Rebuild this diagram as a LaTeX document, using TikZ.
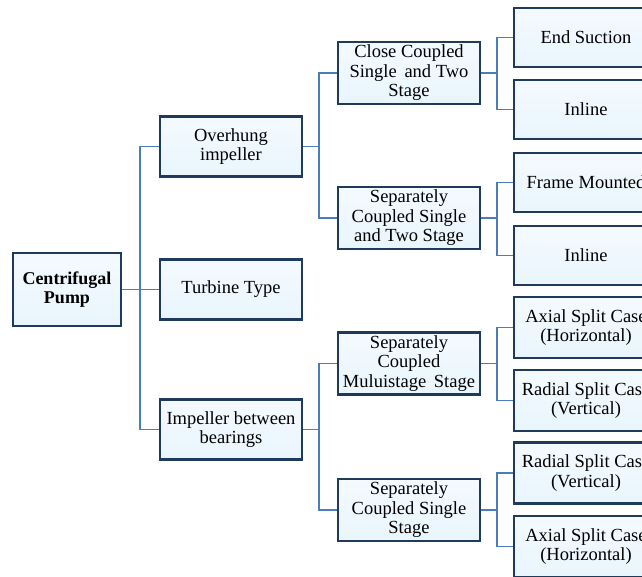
\documentclass[tikz,border=0pt]{standalone}
\usepackage{fontspec}
\setmainfont{Liberation Serif}
\definecolor{boxline}{HTML}{1F3B5C}
\definecolor{boxfill}{HTML}{E9F5FD}
\definecolor{boxtop}{HTML}{F4FAFF}
\definecolor{linkcol}{HTML}{4A7EBB}
\tikzset{
  pbox/.style={draw=boxline, line width=2.2pt, top color=boxtop, bottom color=boxfill,
    align=center, inner sep=1pt, font=\fontsize{18.5}{19.5}\selectfont,
    minimum height=60pt},
  lone/.style={pbox, minimum width=142pt},
  ltwo/.style={pbox, minimum width=142pt, minimum height=62pt},
  lthree/.style={pbox, minimum width=144pt, minimum height=59pt},
  link/.style={draw=linkcol, line width=1.9pt},
}
\begin{document}
\begin{tikzpicture}[x=1pt,y=-1pt]
\clip (0,0) rectangle (642,576);
\fill[white] (0,0) rectangle (642,576);
% root
\node[pbox, minimum width=108pt, minimum height=73pt, font=\fontsize{18}{19.5}\selectfont\bfseries] (root) at (67,289.5) {Centrifugal\\Pump};
% level 1
\node[lone] (ov) at (231,146.5) {Overhung\\impeller};
\node[lone] (tt) at (231,289.5) {Turbine Type};
\node[lone] (ib) at (231,429.5) {Impeller between\\bearings};
% level 2
\node[ltwo] (cc) at (409,73) {Close Coupled\\Single\, and Two\\Stage};
\node[ltwo] (sc) at (409,218) {Separately\\Coupled Single\\and Two Stage};
\node[ltwo] (sm) at (409,363.5) {Separately\\Coupled\\Muluistage\, Stage};
\node[ltwo] (ss) at (409,510) {Separately\\Coupled Single\\Stage};
% level 3
\node[lthree] (es) at (586,37.5) {End Suction};
\node[lthree] (in1) at (586,109.5) {Inline};
\node[lthree] (fm) at (586,182.5) {Frame Mounted};
\node[lthree] (in2) at (586,255.5) {Inline};
\node[lthree, minimum height=61pt] (ah1) at (586,327.5) {Axial Split Case\\(Horizontal)};
\node[lthree, minimum height=61pt] (rv1) at (586,400.5) {Radial Split Case\\(Vertical)};
\node[lthree, minimum height=61pt] (rv2) at (586,473) {Radial Split Case\\(Vertical)};
\node[lthree, minimum height=61pt] (ah2) at (586,546.5) {Axial Split Case\\(Horizontal)};
% connectors
\draw[link] (root.east) -- (tt.west);
\draw[link] (ov.west) -- ++(-19,0) |- (root.east);
\draw[link] (ib.west) -- ++(-19,0) |- (root.east);
\draw[link] (cc.west) -- ++(-18,0) |- (ov.east);
\draw[link] (sc.west) -- ++(-18,0) |- (ov.east);
\draw[link] (sm.west) -- ++(-18,0) |- (ib.east);
\draw[link] (ss.west) -- ++(-18,0) |- (ib.east);
\draw[link] (es.west) -- ++(-16,0) |- (cc.east);
\draw[link] (in1.west) -- ++(-16,0) |- (cc.east);
\draw[link] (fm.west) -- ++(-16,0) |- (sc.east);
\draw[link] (in2.west) -- ++(-16,0) |- (sc.east);
\draw[link] (ah1.west) -- ++(-16,0) |- (sm.east);
\draw[link] (rv1.west) -- ++(-16,0) |- (sm.east);
\draw[link] (rv2.west) -- ++(-16,0) |- (ss.east);
\draw[link] (ah2.west) -- ++(-16,0) |- (ss.east);
\end{tikzpicture}
\end{document}
